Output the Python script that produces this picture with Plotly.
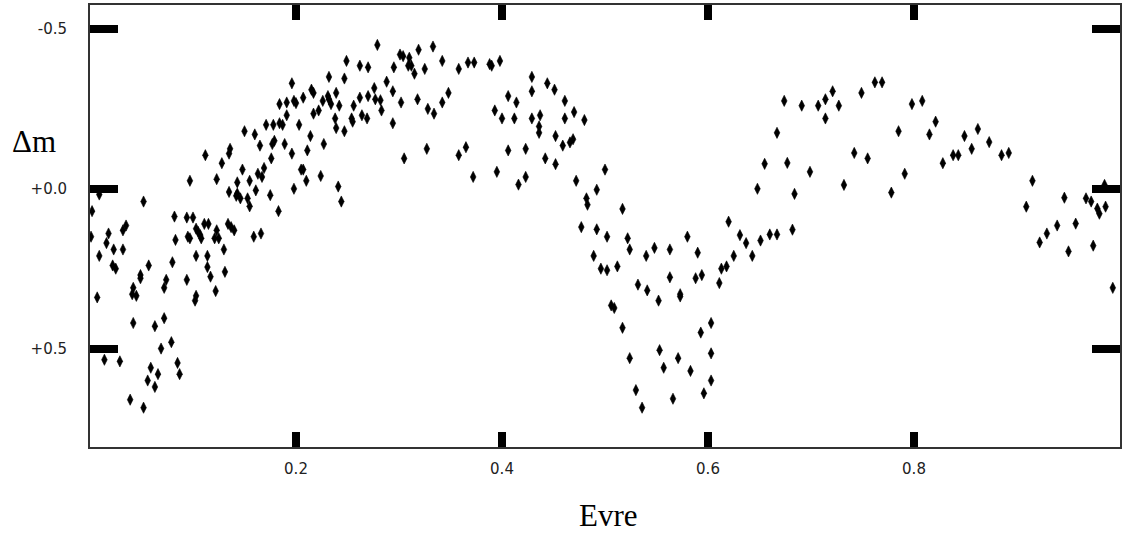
import plotly.graph_objects as go

phase = [
    0.002, 0.001, 0.009, 0.007, 0.009, 0.018, 0.016, 0.023, 0.022, 0.025,
    0.032, 0.035, 0.032, 0.014, 0.029, 0.052, 0.057, 0.049, 0.049, 0.042,
    0.041, 0.045, 0.042, 0.039, 0.052, 0.059, 0.056, 0.066, 0.063, 0.069,
    0.063, 0.072, 0.079, 0.085, 0.087, 0.072, 0.074, 0.080, 0.082, 0.083,
    0.094, 0.100, 0.095, 0.097, 0.094, 0.103, 0.114, 0.114, 0.117, 0.103,
    0.102, 0.122, 0.131, 0.130, 0.103, 0.105, 0.107, 0.108, 0.111, 0.115,
    0.123, 0.121, 0.125, 0.134, 0.137, 0.140, 0.159, 0.166, 0.135, 0.143,
    0.142, 0.146, 0.153, 0.155, 0.161, 0.175, 0.183, 0.198,
    0.196, 0.184, 0.191, 0.198, 0.191, 0.184, 0.171, 0.178, 0.187, 0.150,
    0.160, 0.165, 0.177, 0.179, 0.189, 0.196, 0.135, 0.136, 0.112, 0.128,
    0.176, 0.169, 0.148, 0.163, 0.167, 0.097, 0.123, 0.143, 0.155,
    0.203, 0.211, 0.205, 0.207, 0.210,
    0.279, 0.301, 0.304, 0.310, 0.319, 0.333, 0.309, 0.312, 0.325, 0.342,
    0.295, 0.315, 0.249, 0.262, 0.270, 0.232, 0.247, 0.288, 0.276, 0.294,
    0.270, 0.262, 0.277, 0.282, 0.239, 0.231, 0.232, 0.226, 0.234, 0.242,
    0.256, 0.215, 0.217, 0.207, 0.200, 0.217, 0.222, 0.283, 0.302, 0.318,
    0.348, 0.342, 0.328, 0.334, 0.358, 0.367, 0.373, 0.388, 0.390, 0.398,
    0.238, 0.239, 0.247, 0.254, 0.255, 0.264, 0.269, 0.294, 0.227, 0.214,
    0.224, 0.241, 0.244, 0.305, 0.327, 0.358, 0.365, 0.372, 0.395, 0.393,
    0.400, 0.406, 0.414, 0.412, 0.429, 0.429, 0.444, 0.451, 0.461, 0.470,
    0.429, 0.437, 0.436, 0.436, 0.461, 0.452, 0.459, 0.466, 0.469, 0.406,
    0.423, 0.442, 0.452, 0.423, 0.416, 0.472,
    0.480, 0.500,
    0.492, 0.482, 0.483, 0.517, 0.477, 0.492, 0.502, 0.522, 0.524, 0.489,
    0.496, 0.502, 0.512, 0.540, 0.548, 0.563, 0.580, 0.590, 0.620, 0.631,
    0.637, 0.625, 0.613, 0.618, 0.611, 0.563, 0.588, 0.594, 0.532, 0.541,
    0.552, 0.573, 0.573, 0.506, 0.509, 0.517, 0.524, 0.530, 0.536, 0.553,
    0.557, 0.571, 0.583, 0.566, 0.593, 0.603, 0.603, 0.603, 0.596,
    0.674, 0.691, 0.707, 0.714, 0.721, 0.714, 0.727, 0.667, 0.655, 0.677,
    0.699, 0.648, 0.684, 0.732, 0.742,
    0.643, 0.651, 0.660, 0.667, 0.682,
    0.749, 0.762, 0.769, 0.798, 0.808, 0.821, 0.785, 0.815, 0.849, 0.862,
    0.856, 0.873, 0.828, 0.838, 0.843, 0.885, 0.892, 0.755, 0.791, 0.778,
    0.915, 0.946, 0.967, 0.972, 0.985,
    0.909, 0.978, 0.980, 0.986, 0.957, 0.939, 0.929, 0.922, 0.950, 0.974,
    0.993,
]

delta_m = [
    0.07, 0.15, 0.21, 0.34, 0.018, 0.14, 0.17, 0.19, 0.24, 0.25,
    0.13, 0.115, 0.19, 0.535, 0.54, 0.04, 0.24, 0.27, 0.28, 0.31,
    0.33, 0.335, 0.42, 0.66, 0.685, 0.56, 0.60, 0.58, 0.62, 0.50,
    0.43, 0.405, 0.48, 0.545, 0.58, 0.31, 0.285, 0.23, 0.087, 0.16,
    0.09, 0.09, 0.15, 0.155, 0.285, 0.21, 0.21, 0.245, 0.275, 0.335,
    0.35, 0.32, 0.26, 0.19, 0.125, 0.135, 0.145, 0.155, 0.11, 0.11,
    0.13, 0.155, 0.155, 0.11, 0.12, 0.13, 0.15, 0.14, 0.01, 0.015,
    0.022, 0.03, 0.03, 0.055, 0.005, 0.02, 0.07, 0.0,
    -0.33, -0.265, -0.27, -0.275, -0.23, -0.205, -0.20, -0.20, -0.20, -0.18,
    -0.17, -0.135, -0.14, -0.15, -0.14, -0.11, -0.11, -0.125, -0.105, -0.08,
    -0.095, -0.065, -0.06, -0.047, -0.037, -0.025, -0.03, -0.02, -0.025,
    -0.20, -0.12, -0.06, -0.06, -0.025,
    -0.45, -0.42, -0.415, -0.41, -0.435, -0.445, -0.385, -0.385, -0.375, -0.40,
    -0.38, -0.36, -0.40, -0.385, -0.38, -0.35, -0.345, -0.335, -0.315, -0.305,
    -0.29, -0.285, -0.28, -0.277, -0.30, -0.29, -0.28, -0.275, -0.265, -0.26,
    -0.26, -0.31, -0.30, -0.285, -0.268, -0.235, -0.245, -0.245, -0.27, -0.28,
    -0.30, -0.27, -0.25, -0.235, -0.375, -0.395, -0.395, -0.39, -0.385, -0.40,
    -0.22, -0.19, -0.18, -0.22, -0.21, -0.23, -0.22, -0.205, -0.14, -0.165,
    -0.04, -0.007, 0.04, -0.095, -0.125, -0.105, -0.13, -0.037, -0.053, -0.245,
    -0.22, -0.29, -0.27, -0.22, -0.35, -0.305, -0.33, -0.31, -0.275, -0.24,
    -0.22, -0.23, -0.195, -0.175, -0.22, -0.165, -0.135, -0.145, -0.155, -0.12,
    -0.125, -0.095, -0.077, -0.037, -0.013, -0.025,
    -0.215, -0.06,
    0.003, 0.03, 0.05, 0.063, 0.12, 0.127, 0.15, 0.155, 0.19, 0.21,
    0.25, 0.255, 0.243, 0.21, 0.185, 0.19, 0.15, 0.20, 0.103, 0.145,
    0.17, 0.21, 0.25, 0.243, 0.295, 0.277, 0.28, 0.27, 0.30, 0.318,
    0.35, 0.33, 0.337, 0.365, 0.373, 0.435, 0.53, 0.63, 0.685, 0.505,
    0.56, 0.53, 0.57, 0.657, 0.45, 0.42, 0.515, 0.60, 0.64,
    -0.275, -0.26, -0.26, -0.28, -0.305, -0.22, -0.26, -0.175, -0.078, -0.081,
    -0.053, 0.0, 0.016, -0.012, -0.112,
    0.21, 0.162, 0.143, 0.143, 0.128,
    -0.30, -0.333, -0.333, -0.265, -0.275, -0.21, -0.18, -0.17, -0.165, -0.187,
    -0.125, -0.146, -0.08, -0.105, -0.105, -0.105, -0.112, -0.095, -0.047, 0.012,
    -0.025, 0.028, 0.03, 0.04, -0.012,
    0.056, 0.062, 0.078, 0.056, 0.109, 0.115, 0.14, 0.168, 0.196, 0.178,
    0.31,
]

x_ticks = [0.2, 0.4, 0.6, 0.8]
x_tick_labels = ["0.2", "0.4", "0.6", "0.8"]
y_ticks = [-0.5, 0.0, 0.5]
y_tick_labels = ["-0.5", "+0.0", "+0.5"]

fig = go.Figure()
fig.add_trace(go.Scatter(
    x=phase, y=delta_m, mode="markers",
    marker=dict(symbol="diamond-tall", size=8, color="black",
                line=dict(width=0.6, color="black")),
    hoverinfo="x+y", showlegend=False,
))

tick_font = dict(family="DejaVu Sans", size=15, color="#222222")
title_font = dict(family="Liberation Serif", size=31, color="black")

fig.update_layout(
    width=1128, height=543,
    margin=dict(l=90, r=8, t=3, b=96),
    paper_bgcolor="white", plot_bgcolor="white",
    xaxis=dict(
        range=[0, 1.0], tickvals=x_ticks, ticktext=x_tick_labels,
        ticks="inside", ticklen=15, tickwidth=8, tickcolor="black",
        showline=True, linecolor="#333333", linewidth=2, mirror="ticks",
        showgrid=False, zeroline=False, tickfont=tick_font,
        ticklabelstandoff=7,
    ),
    yaxis=dict(
        range=[0.808, -0.575], tickvals=y_ticks, ticktext=y_tick_labels,
        ticks="inside", ticklen=28, tickwidth=8, tickcolor="black",
        showline=True, linecolor="#333333", linewidth=2, mirror="ticks",
        showgrid=False, zeroline=False, tickfont=tick_font,
        ticklabelstandoff=18,
    ),
    annotations=[
        dict(text="Δm", xref="paper", yref="paper", x=-0.0544, y=0.691,
             showarrow=False, xanchor="center", yanchor="middle",
             font=title_font),
        dict(text="Evre", xref="paper", yref="paper", x=0.503, y=-0.155,
             showarrow=False, xanchor="center", yanchor="middle",
             font=title_font),
    ],
)

fig.write_html("out.html")
